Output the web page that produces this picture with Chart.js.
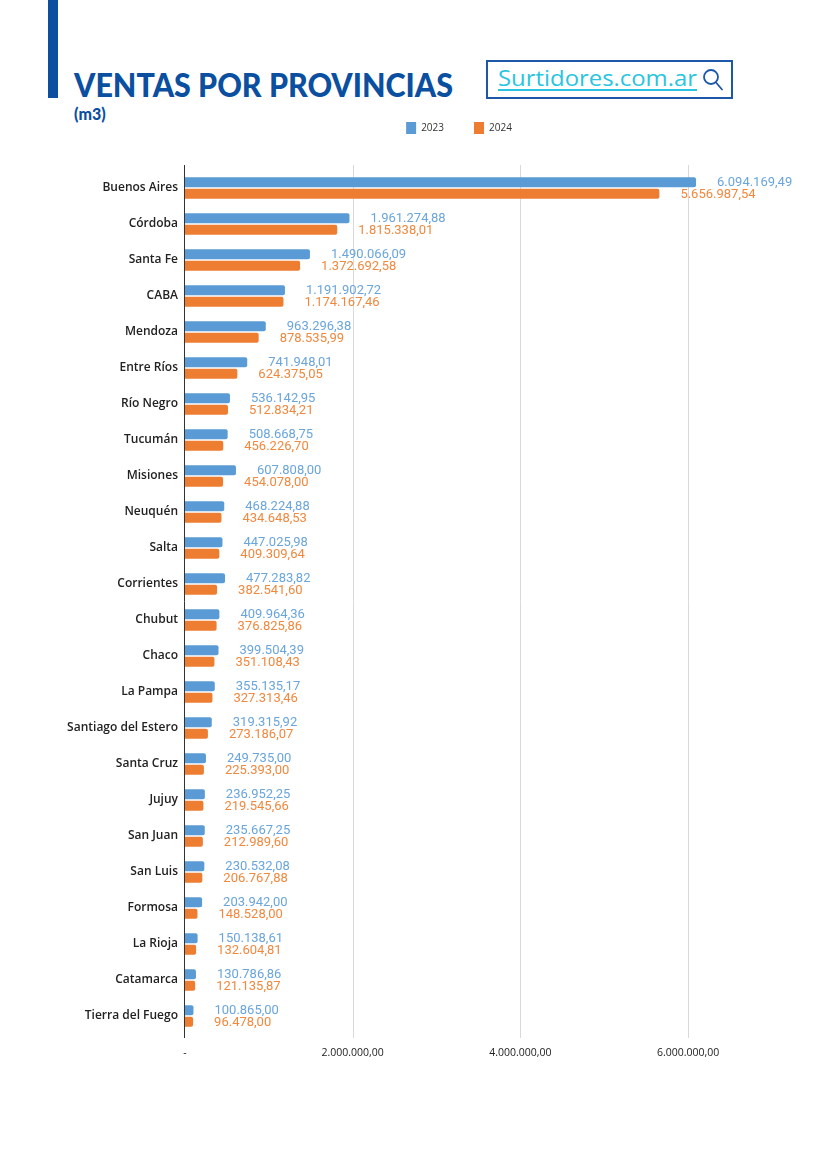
<!DOCTYPE html>
<html>
<head>
<meta charset="utf-8">
<script src="https://cdn.jsdelivr.net/npm/chart.js@4.4.1/dist/chart.umd.min.js"></script>
<style>
  html, body { margin:0; padding:0; background:#fff; }
  body { width:825px; height:1166px; position:relative; overflow:hidden; }
  #sidebar { position:absolute; left:48px; top:0; width:10px; height:98px; background:#0b4fa0; }
  #title { position:absolute; left:74px; top:69px; font:900 32px Lato; line-height:32px; color:#0b4fa0; white-space:nowrap; transform-origin:left top; }
  #unit { position:absolute; left:74px; top:106px; font:900 16px Lato; line-height:16px; color:#0b4fa0; white-space:nowrap; }
  #brand { position:absolute; left:486px; top:60px; width:247px; height:39px; box-sizing:border-box; border:2px solid #1d57a8; }
  #brandText { position:absolute; left:498px; top:67px; font:400 21.4px "Open Sans"; line-height:22px; color:#29c5e0; white-space:nowrap; transform-origin:left top; text-decoration:underline; text-decoration-thickness:1.5px; text-underline-offset:3px; }
  #mag { position:absolute; left:700px; top:66px; }
  #wrap { position:absolute; left:0; top:92px; width:825px; height:983px; }
</style>
</head>
<body>
<div id="sidebar"></div>
<div id="title">VENTAS POR PROVINCIAS</div>
<div id="unit">(m3)</div>
<div id="brand"></div>
<div id="brandText">Surtidores.com.ar</div>
<svg id="mag" width="26" height="28" viewBox="0 0 26 28">
  <circle cx="11" cy="11" r="7" fill="none" stroke="#1d57a8" stroke-width="1.8"/>
  <line x1="16" y1="16.5" x2="22" y2="23.5" stroke="#1d57a8" stroke-width="1.8" stroke-linecap="round"/>
</svg>
<div id="wrap"><canvas id="c"></canvas></div>
<script>
const provinces = ["Buenos Aires","Córdoba","Santa Fe","CABA","Mendoza","Entre Ríos","Río Negro","Tucumán","Misiones","Neuquén","Salta","Corrientes","Chubut","Chaco","La Pampa","Santiago del Estero","Santa Cruz","Jujuy","San Juan","San Luis","Formosa","La Rioja","Catamarca","Tierra del Fuego"];
const ventas2023 = [6094169.49,1961274.88,1490066.09,1191902.72,963296.38,741948.01,536142.95,508668.75,607808.00,468224.88,447025.98,477283.82,409964.36,399504.39,355135.17,319315.92,249735.00,236952.25,235667.25,230532.08,203942.00,150138.61,130786.86,100865.00];
const ventas2024 = [5656987.54,1815338.01,1372692.58,1174167.46,878535.99,624375.05,512834.21,456226.70,454078.00,434648.53,409309.64,382541.60,376825.86,351108.43,327313.46,273186.07,225393.00,219545.66,212989.60,206767.88,148528.00,132604.81,121135.87,96478.00];
const seriesNames = ["2023","2024"];
const xTickValues = [0,2000000,4000000,6000000];

function fmt(v){
  const parts = v.toFixed(2).split('.');
  return parts[0].replace(/\B(?=(\d{3})+(?!\d))/g,'.') + ',' + parts[1];
}

function fitWidth(id, w){
  const el = document.getElementById(id);
  const r = el.getBoundingClientRect().width;
  el.style.transform = 'scaleX(' + (w / r) + ')';
}
fitWidth('title', 379);
fitWidth('brandText', 199);

const barColors = ['#5b9bd5','#ed7d31'];
const labelColors = ['#6aa5dc','#f0883e'];
const AXIS_EXT_TOP = 5, AXIS_EXT_BOTTOM = 4;

// grid lines and y-axis line, extended slightly beyond the category band
const gridLines = {
  id:'gridLines',
  beforeDatasetsDraw(chart){
    const ctx = chart.ctx, area = chart.chartArea, xs = chart.scales.x;
    const top = area.top - AXIS_EXT_TOP, bottom = area.bottom + AXIS_EXT_BOTTOM;
    ctx.save();
    ctx.lineWidth = 1;
    ctx.strokeStyle = '#d9d9d9';
    xs.ticks.forEach(t => {
      if (t.value === 0) return;
      const x = Math.round(xs.getPixelForValue(t.value)) + 0.5;
      ctx.beginPath(); ctx.moveTo(x, top); ctx.lineTo(x, bottom); ctx.stroke();
    });
    ctx.strokeStyle = '#333';
    const x0 = Math.round(xs.getPixelForValue(0)) - 0.5;
    ctx.beginPath(); ctx.moveTo(x0, top); ctx.lineTo(x0, bottom); ctx.stroke();
    ctx.restore();
  }
};

const valueLabels = {
  id:'valueLabels',
  afterDatasetsDraw(chart){
    const ctx = chart.ctx;
    ctx.save();
    ctx.font = '13px Roboto';
    ctx.textBaseline = 'middle';
    ctx.textAlign = 'left';
    chart.data.datasets.forEach((ds, i) => {
      const meta = chart.getDatasetMeta(i);
      ctx.fillStyle = labelColors[i];
      meta.data.forEach((bar, j) => {
        ctx.fillText(fmt(ds.data[j]), bar.x + 21, bar.y + 0.5);
      });
    });
    ctx.restore();
  }
};

const LEGEND_DX = 73;
const legendFix = {
  id:'legendFix',
  beforeLayout(chart){
    const lg = chart.legend;
    if (lg && !lg._patched){
      const orig = lg.fit;
      lg.fit = function(){ orig.call(this); this.height = 78; };
      lg._patched = true;
    }
  },
  afterLayout(chart){
    const lg = chart.legend;
    if (lg){ lg.left += LEGEND_DX; lg.right += LEGEND_DX; }
  }
};

new Chart(document.getElementById('c'), {
  type:'bar',
  data:{
    labels: provinces,
    datasets:[
      { label: seriesNames[0], data: ventas2023, backgroundColor: barColors[0], borderRadius:2, barPercentage:0.85, categoryPercentage:0.64 },
      { label: seriesNames[1], data: ventas2024, backgroundColor: barColors[1], borderRadius:2, barPercentage:0.85, categoryPercentage:0.64 }
    ]
  },
  options:{
    indexAxis:'y',
    responsive:true,
    maintainAspectRatio:false,
    animation:false,
    layout:{ padding:{ left:0, right:53, top:0, bottom:0 } },
    plugins:{
      legend:{
        display:true,
        position:'top',
        align:'center',
        labels:{ boxWidth:10, boxHeight:12, padding:30, color:'#333', font:{ family:'Open Sans', size:10 } }
      },
      tooltip:{ enabled:false },
      title:{ display:false }
    },
    scales:{
      x:{
        min:0, max:7000000,
        afterBuildTicks(scale){ scale.ticks = xTickValues.map(v => ({ value:v })); },
        afterFit(scale){ scale.height = 41; },
        border:{ display:false },
        grid:{ display:false, drawTicks:false },
        ticks:{ padding:13, color:'#222', font:{ family:'Open Sans', size:10.5 }, maxRotation:0,
          callback:(v) => v === 0 ? '-' : fmt(v) }
      },
      y:{
        afterFit(scale){ scale.width = 185; },
        border:{ display:false },
        grid:{ display:false, drawTicks:false },
        ticks:{ padding:7, color:'#222', font:{ family:'Open Sans', size:12, weight:'600' }, autoSkip:false }
      }
    }
  },
  plugins:[gridLines, valueLabels, legendFix]
});
</script>
</body>
</html>
